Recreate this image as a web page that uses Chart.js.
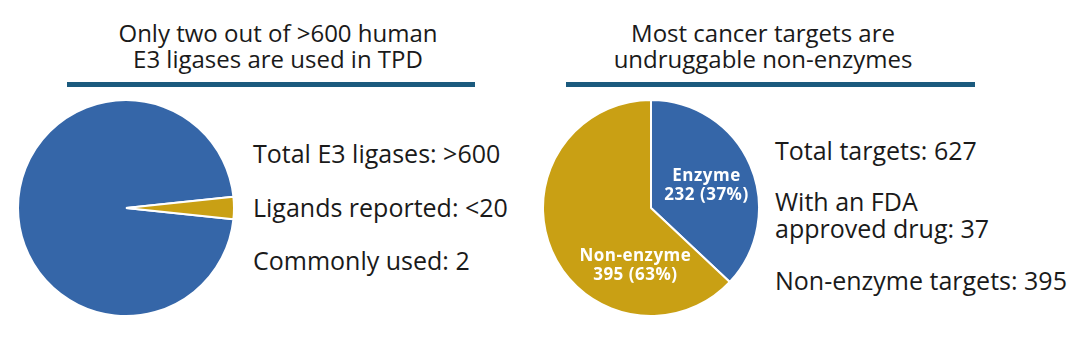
<!DOCTYPE html>
<html>
<head>
<meta charset="utf-8">
<script src="https://cdn.jsdelivr.net/npm/chart.js@4/dist/chart.umd.min.js"></script>
<style>
  html, body { margin: 0; padding: 0; background: #ffffff; }
  #stage { position: relative; width: 1078px; height: 350px; overflow: hidden; font-family: "Open Sans", "Noto Sans", sans-serif; color: #1a1a1a; }
  .title { position: absolute; text-align: center; font-size: 24px; line-height: 26px; white-space: nowrap; }
  .rule { position: absolute; height: 5px; background: #1b5a7e; }
  .side { position: absolute; font-size: 25px; line-height: 27px; white-space: nowrap; }
  .pie { position: absolute; width: 218px; height: 218px; }
</style>
</head>
<body>
<div id="stage">
  <div class="title" style="left:78px; top:20px; width:400px;">Only two out of &gt;600 human<br>E3 ligases are used in TPD</div>
  <div class="rule" style="left:67px; top:82px; width:408px;"></div>
  <div class="title" style="left:563px; top:20px; width:400px;">Most cancer targets are<br>undruggable non-enzymes</div>
  <div class="rule" style="left:566px; top:82px; width:409px;"></div>

  <div class="pie" style="left:17px; top:99px;"><canvas id="pieLeft"></canvas></div>
  <div class="pie" style="left:542px; top:99px;"><canvas id="pieRight"></canvas></div>

  <div id="leftNotes"></div>
  <div id="rightNotes"></div>
</div>
<script>
// ---- data ----
const leftCategories = ["Other E3 ligases", "Ligands reported"];
const leftValues = [580, 20];
const leftNotes = ["Total E3 ligases: >600", "Ligands reported: <20", "Commonly used: 2"];

const rightCategories = ["Enzyme", "Non-enzyme"];
const rightValues = [232, 395];
const rightNotes = ["Total targets: 627", "With an FDA\napproved drug: 37", "Non-enzyme targets: 395"];

// ---- styles ----
const BLUE = "#3566a8";
const GOLD = "#c9a014";

function placeNotes(id, notes, left, tops) {
  const host = document.getElementById(id);
  notes.forEach((t, i) => {
    const d = document.createElement("div");
    d.className = "side";
    d.style.left = left + "px";
    d.style.top = tops[i] + "px";
    d.innerHTML = t.split("\n").map(s => s.replace(/</g, "&lt;").replace(/>/g, "&gt;")).join("<br>");
    host.appendChild(d);
  });
}
placeNotes("leftNotes", leftNotes, 253, [140, 194, 247]);
placeNotes("rightNotes", rightNotes, 775, [137, 188, 267]);

const commonOpts = {
  responsive: true,
  maintainAspectRatio: false,
  animation: false,
  events: [],
  layout: { padding: 0 },
  plugins: { legend: { display: false }, tooltip: { enabled: false } }
};

new Chart(document.getElementById("pieLeft"), {
  type: "pie",
  data: {
    labels: leftCategories,
    datasets: [{
      data: leftValues,
      backgroundColor: [BLUE, GOLD],
      borderColor: "#ffffff",
      borderWidth: 2
    }]
  },
  options: Object.assign({}, commonOpts, {
    rotation: 90 + (leftValues[1] / (leftValues[0] + leftValues[1])) * 180
  })
});

const labelPos = [0.5, 0.275];
const labelRad = [0.56, 0.54];
const sliceLabels = {
  id: "sliceLabels",
  afterDatasetsDraw(chart) {
    const ctx = chart.ctx;
    const meta = chart.getDatasetMeta(0);
    const vals = chart.data.datasets[0].data;
    const total = vals.reduce((a, b) => a + b, 0);
    meta.data.forEach((arc, i) => {
      const p = arc.getProps(["x", "y", "startAngle", "endAngle", "outerRadius"], true);
      const a = p.startAngle + labelPos[i] * (p.endAngle - p.startAngle);
      const r = labelRad[i] * p.outerRadius;
      const cx = p.x + Math.cos(a) * r;
      const cy = p.y + Math.sin(a) * r;
      ctx.save();
      ctx.fillStyle = "#ffffff";
      ctx.font = "bold 17px 'Open Sans', 'Noto Sans', sans-serif";
      if ("letterSpacing" in ctx) ctx.letterSpacing = "0.5px";
      ctx.textAlign = "center";
      ctx.textBaseline = "alphabetic";
      const pct = Math.round(vals[i] / total * 100);
      ctx.fillText(chart.data.labels[i], cx, cy - 3);
      ctx.fillText(vals[i] + " (" + pct + "%)", cx, cy + 16);
      ctx.restore();
    });
  }
};

new Chart(document.getElementById("pieRight"), {
  type: "pie",
  data: {
    labels: rightCategories,
    datasets: [{
      data: rightValues,
      backgroundColor: [BLUE, GOLD],
      borderColor: "#ffffff",
      borderWidth: 2
    }]
  },
  options: Object.assign({}, commonOpts, { rotation: 0 }),
  plugins: [sliceLabels]
});
</script>
</body>
</html>
